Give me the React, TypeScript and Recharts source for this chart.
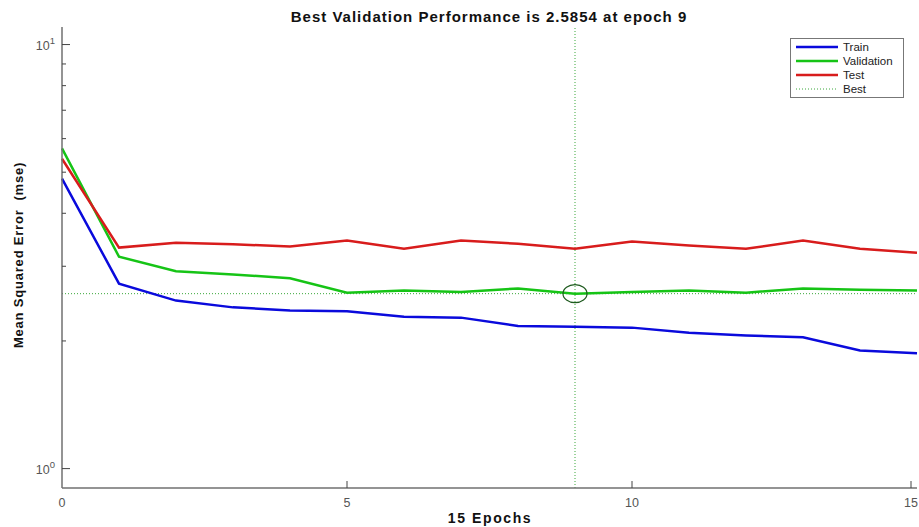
import { LineChart, Line, XAxis, YAxis, ReferenceLine, ReferenceDot } from 'recharts';

const epochs = [0, 1, 2, 3, 4, 5, 6, 7, 8, 9, 10, 11, 12, 13, 14, 15];
const train = [4.83, 2.73, 2.49, 2.4, 2.36, 2.35, 2.28, 2.27, 2.17, 2.16, 2.15, 2.09, 2.06, 2.04, 1.9, 1.87];
const validation = [5.69, 3.16, 2.92, 2.87, 2.81, 2.6, 2.63, 2.61, 2.66, 2.5854, 2.61, 2.63, 2.6, 2.66, 2.64, 2.63];
const test = [5.38, 3.32, 3.41, 3.38, 3.34, 3.45, 3.3, 3.45, 3.39, 3.3, 3.43, 3.36, 3.3, 3.45, 3.3, 3.23];

const bestEpoch = 9;
const bestValue = 2.5854;
const xTicks = [0, 5, 10, 15];
const yTicks = [1, 2, 3, 4, 5, 6, 7, 8, 9, 10];

const data = epochs.map((e, i) => ({
  epoch: e,
  train: train[i],
  validation: validation[i],
  test: test[i],
}));

const FONT = '"Liberation Sans", Arial, Helvetica, sans-serif';
const AXIS_COLOR = '#707070';

const legendItems = [
  { name: 'Train', color: '#0a0adc', dotted: false },
  { name: 'Validation', color: '#16c416', dotted: false },
  { name: 'Test', color: '#d81c1c', dotted: false },
  { name: 'Best', color: '#3aa83a', dotted: true },
];

const YTick = (props: any) => {
  const { x, y, payload } = props;
  const v = payload.value;
  const major = v === 1 || v === 10;
  return (
    <g>
      <line x1={x} x2={x + (major ? 8 : 4)} y1={y} y2={y} stroke="#444" strokeWidth={1} />
      {major && (
        <text x={x - 7} y={y + 5} textAnchor="end" fill="#555" fontSize={12.5} fontFamily={FONT}>
          10
          <tspan dy={-6} fontSize={9.5}>{v === 1 ? '0' : '1'}</tspan>
        </text>
      )}
    </g>
  );
};

const XTick = (props: any) => {
  const { x, y, payload } = props;
  return (
    <g>
      {payload.value !== 0 && <line x1={x} x2={x} y1={y} y2={y - 7} stroke="#444" strokeWidth={1} />}
      <text x={x} y={y + 19} textAnchor="middle" fill="#555" fontSize={12.5} fontFamily={FONT}>
        {payload.value}
      </text>
    </g>
  );
};

const LegendBox = () => (
  <div
    style={{
      position: 'absolute',
      left: 790,
      top: 38,
      border: '1px solid #777',
      background: '#fff',
      padding: '1px 4px',
      width: 104,
      fontFamily: FONT,
      fontSize: 11.5,
      color: '#222',
    }}
  >
    {legendItems.map((it) => (
      <div key={it.name} style={{ display: 'flex', alignItems: 'center', height: 14 }}>
        <svg width={44} height={14} style={{ marginRight: 4 }}>
          <line
            x1={1}
            x2={43}
            y1={7}
            y2={7}
            stroke={it.color}
            strokeWidth={it.dotted ? 1 : 2.5}
            strokeDasharray={it.dotted ? '1 2' : undefined}
          />
        </svg>
        <span>{it.name}</span>
      </div>
    ))}
  </div>
);

const Ellipse = (props: any) => (
  <ellipse cx={props.cx} cy={props.cy} rx={12} ry={9} fill="none" stroke="#1e5a1e" strokeWidth={1.2} />
);

const labelStyle = {
  position: 'absolute' as const,
  fontFamily: FONT,
  fontWeight: 'bold' as const,
  color: '#111',
  whiteSpace: 'nowrap' as const,
};

export default function App() {
  return (
    <div style={{ position: 'fixed', left: 0, top: 0, width: 919, height: 527, background: '#fff', overflow: 'hidden' }}>
      <div style={{ ...labelStyle, top: 8, left: 489, transform: 'translateX(-50%)', fontSize: 15, letterSpacing: 1 }}>
        Best Validation Performance is 2.5854 at epoch 9
      </div>
      <div style={{ ...labelStyle, top: 510, left: 490, transform: 'translateX(-50%)', fontSize: 14, letterSpacing: 1.6 }}>
        15 Epochs
      </div>
      <div
        style={{
          ...labelStyle,
          left: 18,
          top: 255,
          transform: 'translate(-50%, -50%) rotate(-90deg)',
          fontSize: 13,
          letterSpacing: 0.8,
        }}
      >
        Mean Squared Error&nbsp;&nbsp;(mse)
      </div>
      <LineChart width={919} height={527} data={data} margin={{ top: 27, right: 2, bottom: 14, left: 12 }}>
        <XAxis
          dataKey="epoch"
          type="number"
          domain={[0, 15]}
          ticks={xTicks}
          tickLine={false}
          tickSize={0}
          tickMargin={0}
          tick={<XTick />}
          height={25}
          stroke={AXIS_COLOR}
          strokeWidth={1.5}
        />
        <YAxis
          scale="log"
          domain={[0.9, 11]}
          allowDataOverflow
          ticks={yTicks}
          interval={0}
          tickLine={false}
          tickSize={0}
          tickMargin={0}
          tick={<YTick />}
          width={50}
          stroke={AXIS_COLOR}
          strokeWidth={1.5}
        />
        <ReferenceLine x={bestEpoch} stroke="#3aa83a" strokeDasharray="1 2" strokeWidth={1} />
        <ReferenceLine y={bestValue} stroke="#3aa83a" strokeDasharray="1 2" strokeWidth={1} />
        <Line dataKey="train" stroke={legendItems[0].color} strokeWidth={2.5} dot={false} isAnimationActive={false} />
        <Line dataKey="validation" stroke={legendItems[1].color} strokeWidth={2.5} dot={false} isAnimationActive={false} />
        <Line dataKey="test" stroke={legendItems[2].color} strokeWidth={2.5} dot={false} isAnimationActive={false} />
        <ReferenceDot x={bestEpoch} y={bestValue} shape={<Ellipse />} />
      </LineChart>
      <LegendBox />
    </div>
  );
}
